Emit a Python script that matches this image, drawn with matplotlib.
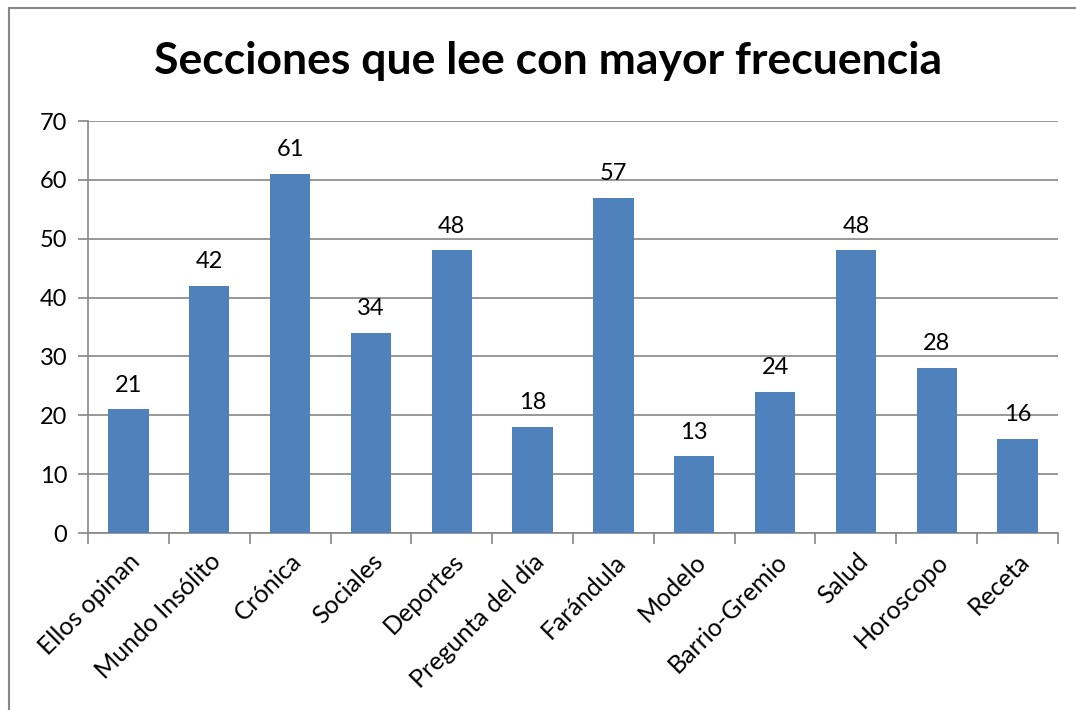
import matplotlib.pyplot as plt
from matplotlib.patches import Rectangle

categories = ["Ellos opinan", "Mundo Insólito", "Crónica", "Sociales", "Deportes",
              "Pregunta del día", "Farándula", "Modelo", "Barrio-Gremio", "Salud",
              "Horoscopo", "Receta"]
values = [21, 42, 61, 34, 48, 18, 57, 13, 24, 48, 28, 16]
yticks = [0, 10, 20, 30, 40, 50, 60, 70]

plt.rcParams['font.family'] = ['Lato', 'DejaVu Sans']

fig = plt.figure(figsize=(10.76, 7.10), dpi=100)
ax = fig.add_axes([88/1076, 177/710, (1058-88)/1076, (533-121)/710])

x = range(len(categories))
ax.bar(x, values, width=0.5, color="#4f81bd", zorder=3)
for i, v in zip(x, values):
    ax.annotate(str(v), (i, v), xytext=(0, 10), textcoords="offset points",
                ha="center", va="bottom", fontsize=17)

ax.set_xlim(-0.5, len(categories) - 0.5)
ax.set_ylim(0, 70)
ax.set_yticks(yticks)
ax.tick_params(axis="y", labelsize=17, length=7, color="#868686", width=1.2, pad=8)
ax.yaxis.grid(True, color="#868686", linewidth=1.2, zorder=0)

ax.set_xticks([i + 0.5 for i in range(-1, len(categories))], minor=False)
ax.set_xticklabels([""] * (len(categories) + 1))
ax.tick_params(axis="x", length=8, color="#868686", width=1.2)
ax.set_xticks(list(x), minor=True)
ax.set_xticklabels(categories, minor=True, rotation=45, ha="right",
                   rotation_mode="anchor", fontsize=18)
ax.tick_params(axis="x", which="minor", length=0, pad=12)

for side in ["top", "right"]:
    ax.spines[side].set_visible(False)
for side in ["left", "bottom"]:
    ax.spines[side].set_color("#868686")
    ax.spines[side].set_linewidth(1.2)

fig.text(548/1076, 1 - 61/710, "Secciones que lee con mayor frecuencia",
         ha="center", va="center", fontsize=32, fontweight="bold")

fig.patches.append(Rectangle((9/1076, -0.01), 1.1, 1 - 8/710 + 0.01,
                             transform=fig.transFigure, fill=False,
                             edgecolor="#868686", linewidth=1.5))

fig.savefig("out.png", dpi=100)
